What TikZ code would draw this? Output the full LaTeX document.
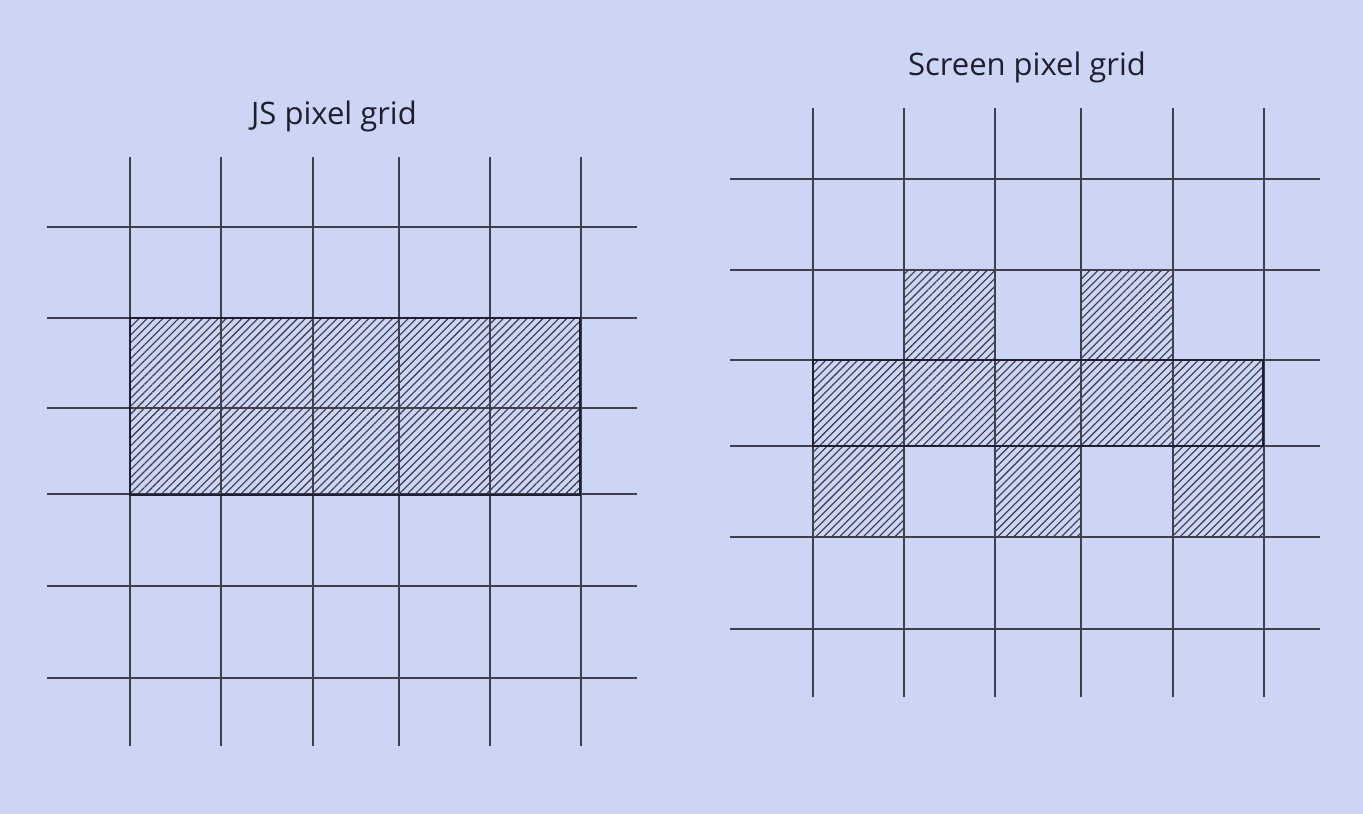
\documentclass[tikz,border=0pt]{standalone}
\usepackage{fontspec}
\setmainfont{Open Sans}
\usetikzlibrary{patterns.meta}
\definecolor{Canvas}{HTML}{CCD5F4}
\definecolor{Ink}{HTML}{1E1E2E}
\tikzset{
 gridline/.style={draw=Ink!85,line width=1.2pt},
 hatch/.style={pattern={Lines[angle=45,distance=5.6pt,line width=1.1pt]},pattern color=Ink!90},
 frame/.style={draw=Ink,line width=2.2pt},
 title/.style={font=\fontsize{31}{33}\selectfont,text=Ink}
}

\begin{document}
\begin{tikzpicture}[x=1pt,y=-1pt]
\fill[Canvas] (0,0) rectangle (1363,814);
\useasboundingbox (0,0) rectangle (1363,814);

% left: JS pixel grid
\node[title] (jstitle) at (334,116) {JS pixel grid};
\fill[hatch] (130,318) rectangle (580,495);
\foreach \x in {130,221,313,399,490,581}
  \draw[gridline] (\x,157) -- (\x,746);
\foreach \y in {227,318,408,494,586,678}
  \draw[gridline] (47,\y) -- (637,\y);
\draw[frame] (130,318) rectangle (580,495);

% right: screen pixel grid
\node[title] (screentitle) at (1027,67) {Screen pixel grid};
\foreach \a/\b/\c/\d in {904/270/995/360,1081/270/1173/360,813/446/904/537,995/446/1081/537,1173/446/1264/537,813/360/1263/446}
  \fill[hatch] (\a,\b) rectangle (\c,\d);
\foreach \x in {813,904,995,1081,1173,1264}
  \draw[gridline] (\x,108) -- (\x,697);
\foreach \y in {179,270,360,446,537,629}
  \draw[gridline] (730,\y) -- (1320,\y);
\draw[frame] (813,360) rectangle (1263,446);
\end{tikzpicture}
\end{document}
